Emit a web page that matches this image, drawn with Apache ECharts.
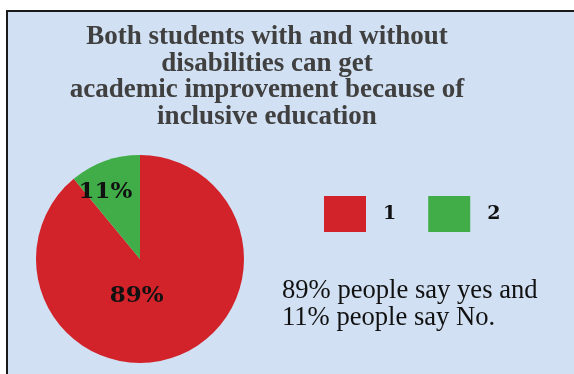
<!DOCTYPE html>
<html>
<head>
<meta charset="utf-8">
<script src="https://cdn.jsdelivr.net/npm/echarts@6/dist/echarts.min.js"></script>
<style>
  html, body { margin: 0; padding: 0; background: #ffffff; }
  #chart { width: 574px; height: 374px; }
</style>
</head>
<body>
<div id="chart"></div>
<script>
// chart data
const categories = ['1', '2'];
const values = [89, 11];
const sliceColors = ['#d2232a', '#41ad49'];
const titleText = 'Both students with and without\ndisabilities can get\nacademic improvement because of\ninclusive education';
const noteText = '89% people say yes and\n11% people say No.';

// nudge the inside labels to where the original placed them
const labelShift = [[-22, -15], [-16, -15]];

const chart = echarts.init(document.getElementById('chart'));

const option = {
  animation: false,
  graphic: [
    {
      type: 'rect',
      z: -10,
      shape: { x: 7, y: 11, width: 600, height: 400 },
      style: { fill: '#d1e0f2', stroke: '#1a1a1a', lineWidth: 2 }
    },
    {
      type: 'text',
      x: 267,
      y: 24,
      style: {
        text: titleText,
        fill: '#404040',
        fontFamily: 'Liberation Serif',
        fontWeight: 'bold',
        fontSize: 27,
        lineHeight: 26.5,
        align: 'center',
        verticalAlign: 'top'
      }
    },
    {
      type: 'text',
      x: 282,
      y: 278,
      style: {
        text: noteText,
        fill: '#111111',
        fontFamily: 'Liberation Serif',
        fontSize: 26.6,
        lineHeight: 27,
        align: 'left',
        verticalAlign: 'top'
      }
    }
  ],
  legend: {
    left: 324,
    top: 196,
    orient: 'horizontal',
    itemWidth: 42,
    itemHeight: 36,
    itemGap: 32,
    icon: 'rect',
    padding: 0,
    data: categories,
    textStyle: {
      fontFamily: 'DejaVu Serif',
      fontWeight: 'bold',
      fontSize: 19,
      color: '#111111',
      padding: [0, 0, 0, 12]
    }
  },
  series: [
    {
      type: 'pie',
      center: [140, 259],
      radius: 104,
      startAngle: 90,
      clockwise: true,
      silent: true,
      data: categories.map((name, i) => ({
        name: name,
        value: values[i],
        itemStyle: { color: sliceColors[i] }
      })),
      label: {
        show: true,
        position: 'inside',
        formatter: '{c}%',
        fontFamily: 'DejaVu Serif',
        fontWeight: 'bold',
        fontSize: 23,
        color: '#111111'
      },
      labelLine: { show: false },
      labelLayout: function (params) {
        const s = labelShift[params.dataIndex];
        return { dx: s[0], dy: s[1] };
      }
    }
  ]
};

chart.setOption(option);
</script>
</body>
</html>
